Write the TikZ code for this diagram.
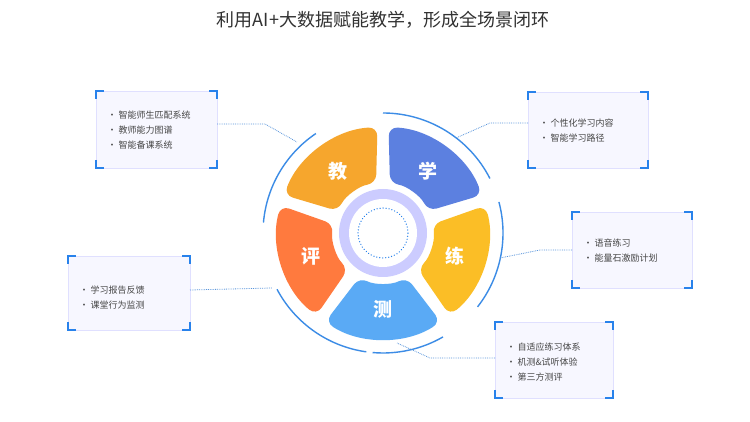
\documentclass[tikz,border=0pt]{standalone}
\usepackage{fontspec}
\setmainfont{Noto Sans CJK SC}
\usetikzlibrary{calc}
\definecolor{cJiao}{RGB}{246,166,45}
\definecolor{cXue}{RGB}{92,128,224}
\definecolor{cLian}{RGB}{251,190,38}
\definecolor{cCe}{RGB}{90,170,245}
\definecolor{cPing}{RGB}{255,122,62}
\definecolor{cBrk}{RGB}{40,130,235}
\definecolor{cConn}{RGB}{90,150,220}
\definecolor{cItem}{RGB}{70,70,70}
\definecolor{cArc}{RGB}{60,140,230}
\definecolor{cTitle}{RGB}{50,50,50}
\begin{document}
\begin{tikzpicture}[x=1pt,y=1pt,
  seg/.style={rounded corners=9pt},
  box/.style={draw=blue!12, fill=blue!3, line width=0.8pt},
  brk/.style={draw=cBrk, line width=2.2pt},
  conn/.style={draw=cConn, densely dotted, line width=0.8pt},
  item/.style={anchor=west, font=\fontsize{9}{11}\selectfont, text=cItem},
  seglab/.style={font=\fontsize{19}{21}\selectfont\bfseries, text=white},
  arcst/.style={draw=cArc, line width=1.4pt}]
\useasboundingbox (0,0) rectangle (750,422);
\fill[white] (0,0) rectangle (750,422);
\node[text=cTitle, font=\fontsize{18}{20}\selectfont] (title) at (383,402) {利用AI+大数据赋能教学，形成全场景闭环};
\coordinate (c) at (383,189);
% segments
\foreach \a/\col in {126/cJiao,54/cXue,-18/cLian,-90/cCe,198/cPing}{
  \fill[\col, seg] ($(c)+(\a-33:106)$) arc[start angle=\a-33, end angle=\a+33, radius=106]
     -- ($(c)+(\a+28:50)$) arc[start angle=\a+28, end angle=\a-28, radius=50] -- cycle;
}
\node[seglab] (jiao) at ($(c)+(126:76)$) {教};
\node[seglab] (xue) at ($(c)+(54:76)$) {学};
\node[seglab] (lian) at ($(c)+(-18:76)$) {练};
\node[seglab] (ce) at ($(c)+(-90:76)$) {测};
\node[seglab] (ping) at ($(c)+(198:76)$) {评};
% center
\fill[blue!20] (c) circle (44);
\fill[white] (c) circle (34);
\draw[cBrk, line width=1.4pt, dash pattern=on 0.01pt off 3pt, line cap=round] (c) circle (25);
% outer arcs
\foreach \s/\e in {27/90,-38/15,-95/-60,208/262,124/175}{
  \draw[arcst] ($(c)+(\s:120)$) arc[start angle=\s, end angle=\e, radius=120];
}
% boxes
\newcommand{\mybox}[5]{%
 \draw[box] (#1,#2) rectangle (#3,#4);
 \draw[brk] (#1,#2+8) -- (#1,#2) -- (#1+8,#2);
 \draw[brk] (#3-8,#2) -- (#3,#2) -- (#3,#2+8);
 \draw[brk] (#1,#4-8) -- (#1,#4) -- (#1+8,#4);
 \draw[brk] (#3-8,#4) -- (#3,#4) -- (#3,#4-8);
 \node (#5) at ({(#1+#3)/2},{(#2+#4)/2}) {};
}
\mybox{96}{254}{217}{331}{b1}
\node[item] at (104,307) {· 智能师生匹配系统};
\node[item] at (104,292) {· 教师能力图谱};
\node[item] at (104,277) {· 智能备课系统};
\mybox{528}{254}{648}{330}{b2}
\node[item] at (536,299) {· 个性化学习内容};
\node[item] at (536,284) {· 智能学习路径};
\mybox{572}{134}{692}{210}{b3}
\node[item] at (580,179) {· 语音练习};
\node[item] at (580,164) {· 能量石激励计划};
\mybox{68}{92}{190}{166}{b4}
\node[item] at (76,132) {· 学习报告反馈};
\node[item] at (76,117) {· 课堂行为监测};
\mybox{495}{24}{613}{100}{b5}
\node[item] at (503,75) {· 自适应练习体系};
\node[item] at (503,60) {· 机测\&试听体验};
\node[item] at (503,45) {· 第三方测评};
% connectors
\coordinate (k1) at (297,280);
\coordinate (k2) at (456,284);
\coordinate (k3) at (500,164);
\coordinate (k4) at (272,134);
\coordinate (k5) at (397,79);
\draw[conn] (217,298) -- (265,298) -- (k1);
\draw[conn] (528,299) -- (490,299) -- (k2);
\draw[conn] (572,172) -- (540,172) -- (k3);
\draw[conn] (190,132) -- (k4);
\draw[conn] (495,64) -- (430,64) -- (k5);
\end{tikzpicture}
\end{document}
